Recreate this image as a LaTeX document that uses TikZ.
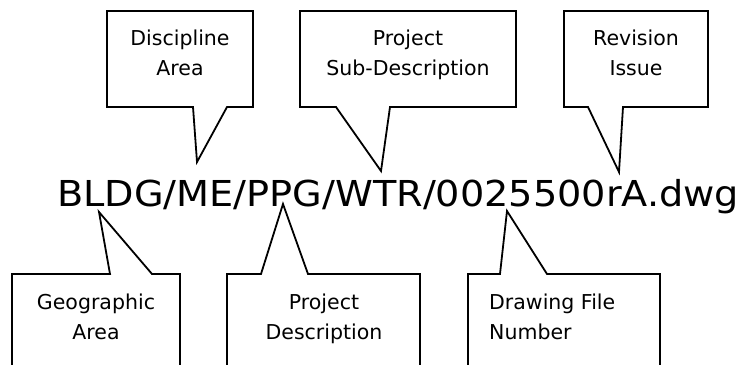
\documentclass[tikz,border=0pt]{standalone}
\usepackage{fontspec}
\setmainfont{DejaVu Sans}
\usepackage{graphicx}
\begin{document}
\begin{tikzpicture}[x=1pt,y=-1pt,
  callout/.style={draw=black,line width=1.8pt,fill=white,line join=miter},
  lbl/.style={font={\fontsize{20.5}{29.5}\selectfont},inner sep=0pt,align=center,anchor=base},
  ]
\useasboundingbox (0,0) rectangle (744,364);
\clip (0,0) rectangle (744,364);

% tips of the callouts
\coordinate (tDisc) at (197,162);
\coordinate (tSub)  at (381,171);
\coordinate (tRev)  at (619,172);
\coordinate (tGeo)  at (99,212);
\coordinate (tPD)   at (283,204);
\coordinate (tDF)   at (507,211);

% top callouts
\draw[callout] (107,11) -- (253,11) -- (253,107) -- (227,107) -- (tDisc) -- (193,107) -- (107,107) -- cycle;
\draw[callout] (300,11) -- (516,11) -- (516,107) -- (390,107) -- (tSub) -- (336,107) -- (300,107) -- cycle;
\draw[callout] (564,11) -- (708,11) -- (708,107) -- (623,107) -- (tRev) -- (588,107) -- (564,107) -- cycle;

% bottom callouts
\draw[callout] (12,274) -- (110,274) -- (tGeo) -- (152,274) -- (180,274) -- (180,400) -- (12,400) -- cycle;
\draw[callout] (227,274) -- (261,274) -- (tPD) -- (308,274) -- (420,274) -- (420,400) -- (227,400) -- cycle;
\draw[callout] (468,274) -- (500,274) -- (tDF) -- (547,274) -- (660,274) -- (660,400) -- (468,400) -- cycle;

% file name
\node[inner sep=0pt,anchor=base west,font=\fontsize{35.7}{40}\selectfont] (fname) at (57,206)
  {\resizebox{682pt}{\height}{BLDG/ME/PPG/WTR/0025500rA.dwg}};

% labels (anchor base = baseline of the last line)
\node[lbl] (discT) at (180,75) {Discipline\\Area};
\node[lbl] (subT)  at (408,75) {Project\\Sub-Description};
\node[lbl] (revT)  at (636,75) {Revision\\Issue};
\node[lbl] (geoT)  at (96,339) {Geographic\\Area};
\node[lbl] (pdT)   at (324,339) {Project\\Description};
\node[lbl,align=left,anchor=base west] (dfT) at (489,339) {Drawing File\\Number};
\end{tikzpicture}
\end{document}
